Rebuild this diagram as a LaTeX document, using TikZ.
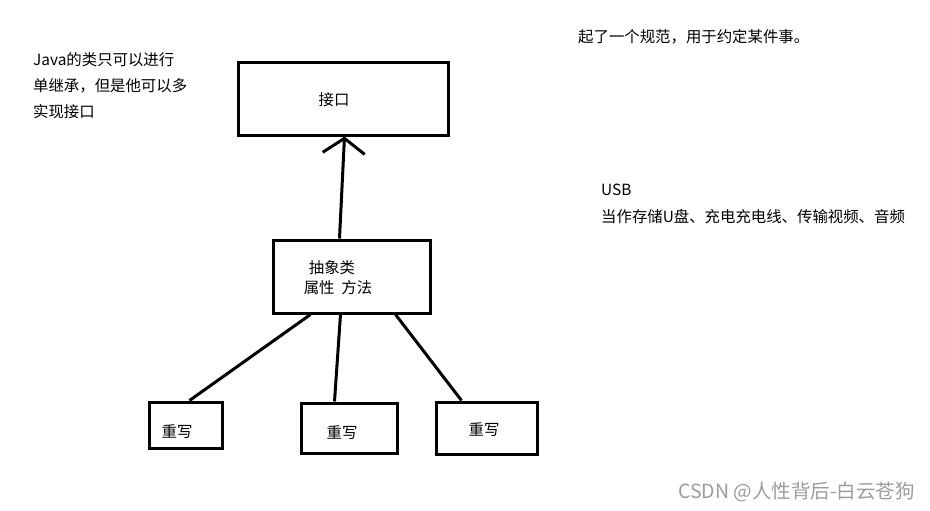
\documentclass[tikz,border=0pt]{standalone}
\usepackage{fontspec}
\setmainfont{Noto Sans CJK SC}
\usetikzlibrary{arrows.meta,calc}
\definecolor{wmgray}{HTML}{9C9C9C}
\begin{document}
\begin{tikzpicture}[x=1pt,y=-1pt,
  box/.style={draw, line width=3pt, inner sep=0pt},
  txt/.style={font=\fontsize{15.4}{18}\selectfont, inner sep=0pt},
  link/.style={line width=3pt},
  wm/.style={font=\fontsize{19.5}{22}\selectfont, text=wmgray, inner sep=0pt}]
\useasboundingbox[fill=white] (0,0) rectangle (930,511);
% boxes
\node[box, minimum width=210pt, minimum height=72pt] (iface) at (343,99) {};
\node[box, minimum width=157pt, minimum height=73pt] (abs) at (351.5,276.5) {};
\node[box, minimum width=73pt, minimum height=46pt] (o1) at (185.5,425) {};
\node[box, minimum width=96pt, minimum height=50pt] (o2) at (349,428) {};
\node[box, minimum width=101pt, minimum height=52pt] (o3) at (486.5,428) {};
% box texts
\node[txt] (ifacet) at (334,100) {接口};
\node[txt] (abst1) at (332,268) {抽象类};
\node[txt] (abst2) at (338,288) {属性\ \ 方法};
\node[txt] (o1t) at (177,432) {重写};
\node[txt] (o2t) at (342,433) {重写};
\node[txt] (o3t) at (484,430) {重写};
% connectors
\draw[link, -{Straight Barb[length=15pt,width=42pt]}] ($(abs.north west)+(68,0)$) -- ($(iface.south west)+(108,0)$);
\draw[link] ($(abs.south west)+(39,0)$) -- ($(o1.north west)+(42,0)$);
\draw[link] ($(abs.south west)+(69,0)$) -- ($(o2.north west)+(35,0)$);
\draw[link] ($(abs.south west)+(124,0)$) -- ($(o3.north west)+(27,0)$);
% free texts
\node[txt, anchor=west] (n1) at (33,60) {Java的类只可以进行};
\node[txt, anchor=west] (n2) at (33,86) {单继承，但是他可以多};
\node[txt, anchor=west] (n3) at (33,112) {实现接口};
\node[txt, anchor=west] (n4) at (578,37) {起了一个规范，用于约定某件事。};
\node[txt, anchor=west] (n5) at (601,190) {USB};
\node[txt, anchor=west] (n6) at (601,217) {当作存储U盘、充电充电线、传输视频、音频};
\node[wm, anchor=east] (wmark) at (915,492) {CSDN @人性背后-白云苍狗};
\end{tikzpicture}
\end{document}
